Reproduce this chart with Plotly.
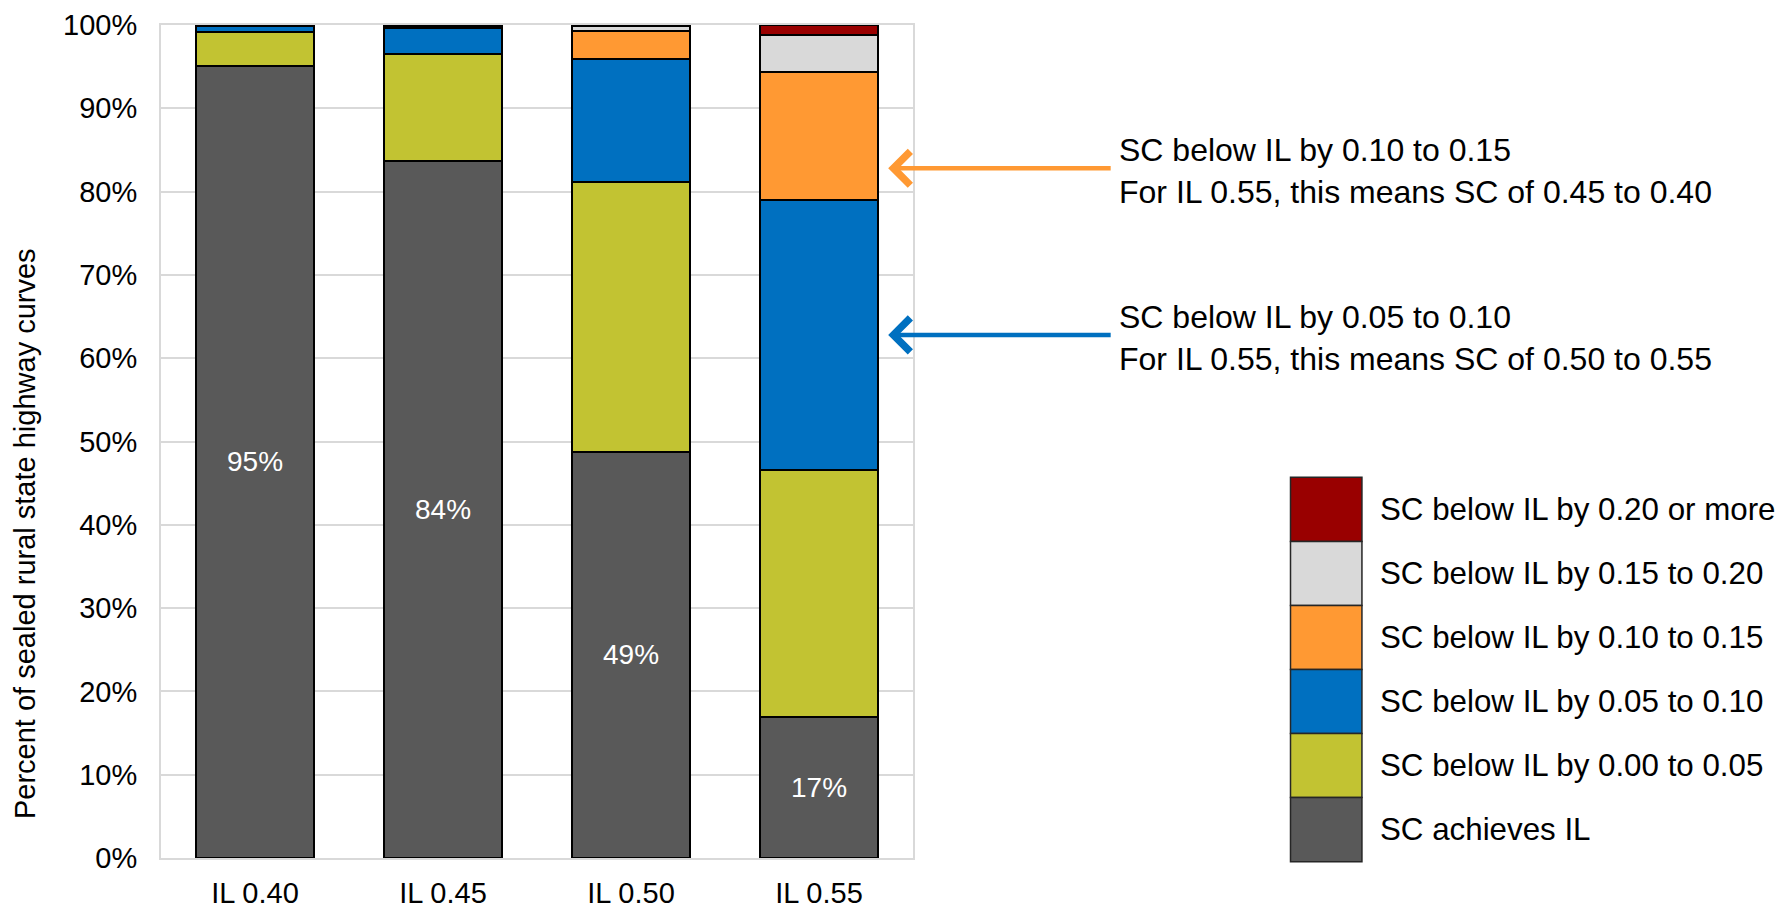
import plotly.graph_objects as go

categories = ["IL 0.40", "IL 0.45", "IL 0.50", "IL 0.55"]

series_names = [
    "SC achieves IL",
    "SC below IL by 0.00 to 0.05",
    "SC below IL by 0.05 to 0.10",
    "SC below IL by 0.10 to 0.15",
    "SC below IL by 0.15 to 0.20",
    "SC below IL by 0.20 or more",
]
achieves = [95.1, 83.7, 48.8, 16.9]
below_000_005 = [4.1, 12.8, 32.3, 29.7]
below_005_010 = [0.7, 3.1, 14.8, 32.4]
below_010_015 = [0.1, 0.3, 3.4, 15.4]
below_015_020 = [0.0, 0.1, 0.6, 4.4]
below_020_more = [0.0, 0.0, 0.1, 1.2]
series_values = [achieves, below_000_005, below_005_010,
                 below_010_015, below_015_020, below_020_more]
colors = ["#595959", "#C2C332", "#0070C0", "#FF9933", "#D9D9D9", "#990000"]

y_ticks = list(range(0, 101, 10))
y_ticktext = [f"{v}%" for v in y_ticks]
y_title = "Percent of sealed rural state highway curves"

note_orange = ["SC below IL by 0.10 to 0.15", "For IL 0.55, this means SC of 0.45 to 0.40"]
note_blue = ["SC below IL by 0.05 to 0.10", "For IL 0.55, this means SC of 0.50 to 0.55"]
note_orange_level = 82.8
note_blue_level = 62.8

FONT = "Liberation Sans, Arial, sans-serif"

fig = go.Figure()
for i, (name, vals, col) in enumerate(zip(series_names, series_values, colors)):
    kw = {}
    if i == 0:
        kw = dict(text=[f"{v:.0f}%" for v in vals], textposition="inside",
                  insidetextanchor="middle",
                  textfont=dict(color="white", size=28, family=FONT))
    fig.add_trace(go.Bar(x=categories, y=vals, name=name,
                         marker=dict(color=col, line=dict(color="black", width=2)),
                         showlegend=False, hoverinfo="skip", **kw))

# page body has an 8px margin: compensate so the plot lands where the reference has it
fig.update_layout(
    barmode="stack", bargap=0.375,
    width=1781, height=901,
    margin=dict(l=153, r=876, t=17, b=51, autoexpand=False),
    paper_bgcolor="white", plot_bgcolor="white",
    font=dict(family=FONT, size=29, color="black"),
)
fig.update_yaxes(range=[0, 100], tickvals=y_ticks, ticktext=y_ticktext,
                 showgrid=True, gridcolor="#D9D9D9", gridwidth=2,
                 showline=True, linecolor="#D9D9D9", linewidth=2, mirror=True,
                 zeroline=False, ticks="", ticklabelstandoff=16, automargin=False,
                 tickfont=dict(size=29, family=FONT))
fig.update_xaxes(showline=True, linecolor="#D9D9D9", linewidth=2, mirror=True,
                 ticks="", ticklabelstandoff=8, automargin=False,
                 tickfont=dict(size=29, family=FONT))

annotations = []
annotations.append(dict(text=y_title, xref="paper", yref="paper", x=-0.181, y=0.39,
                        textangle=-90, showarrow=False, xanchor="center", yanchor="middle",
                        font=dict(size=29, family=FONT)))

for lines, level, col, ty in [(note_orange, note_orange_level, "#FF9933", 0.8247),
                              (note_blue, note_blue_level, "#0070C0", 0.6237)]:
    annotations.append(dict(x=0.967, y=level, xref="paper", yref="y",
                            ax=224, ay=0, showarrow=True, arrowhead=4,
                            arrowsize=1.45, arrowwidth=4.5, arrowcolor=col, text=""))
    annotations.append(dict(text="<br>".join(lines), xref="paper", yref="paper",
                            x=1.271, y=ty, xanchor="left", yanchor="middle", align="left",
                            showarrow=False, font=dict(size=32, family=FONT)))

shapes = []
box_x0, box_x1 = 1.502, 1.597
box_h = 0.0769
top = 0.457
for k in range(len(series_names)):
    idx = len(series_names) - 1 - k
    y1 = top - k * box_h
    y0 = y1 - box_h
    shapes.append(dict(type="rect", xref="paper", yref="paper",
                       x0=box_x0, x1=box_x1, y0=y0, y1=y1,
                       fillcolor=colors[idx], line=dict(color="#262626", width=1.5)))
    annotations.append(dict(text=series_names[idx], xref="paper", yref="paper",
                            x=1.619, y=(y0 + y1) / 2, xanchor="left", yanchor="middle",
                            showarrow=False, font=dict(size=31.3, family=FONT)))

fig.update_layout(annotations=annotations, shapes=shapes)
fig.write_html("out.html")
